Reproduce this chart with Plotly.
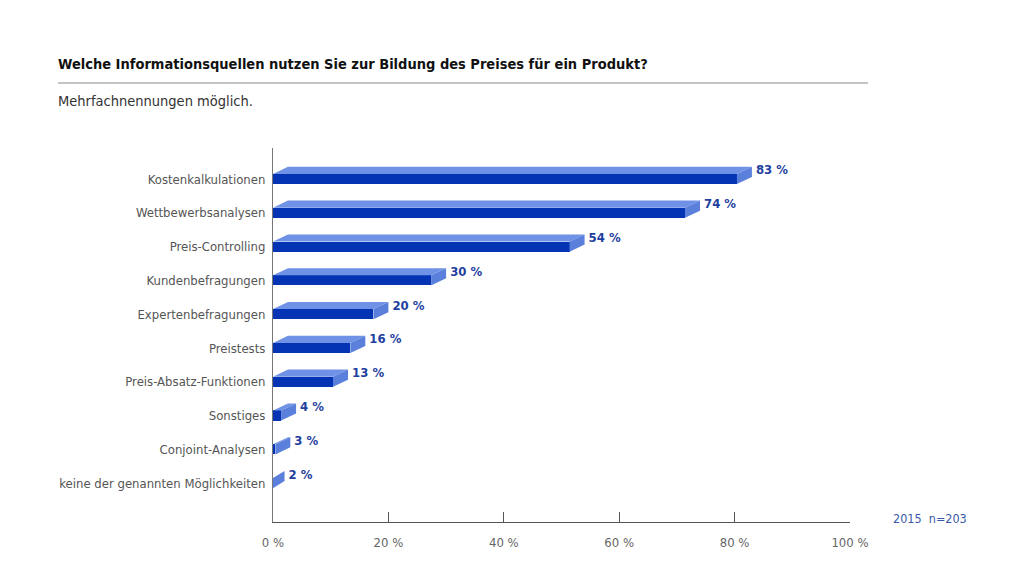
import plotly.graph_objects as go

categories = [
    "Kostenkalkulationen",
    "Wettbewerbsanalysen",
    "Preis-Controlling",
    "Kundenbefragungen",
    "Expertenbefragungen",
    "Preistests",
    "Preis-Absatz-Funktionen",
    "Sonstiges",
    "Conjoint-Analysen",
    "keine der genannten Möglichkeiten",
]
values = [83, 74, 54, 30, 20, 16, 13, 4, 3, 2]
x_ticks = [0, 20, 40, 60, 80, 100]
x_tick_labels = ["0 %", "20 %", "40 %", "60 %", "80 %", "100 %"]

FONT = "DejaVu Sans Condensed, Liberation Sans Narrow, sans-serif"
DARK = "#0434b4"
LIGHT = "#6f91e6"
SIDE = "#5b80db"
LABEL_BLUE = "#1f3f9f"

H = 0.30    # front face height (row units)
T = 0.21    # depth shift upwards (row units)
D = 2.6     # depth shift to the right (% units)

OFF = 8     # page body margin
L, R_EDGE, TOP, BOT = 273, 850, 148, 522
PW, PH = R_EDGE - L, BOT - TOP

def px(x):
    return (x - L) / PW

def py(y):
    return (BOT - y) / PH

pos = list(range(len(categories)))
front_w = []
top_x, top_y, side_x, side_y = [], [], [], []
for yc, v in zip(pos, values):
    d = min(D, v)
    fw = v - d
    front_w.append(fw)
    yt = yc - H / 2
    yb = yc + H / 2
    if fw > 0:
        top_x += [0, fw, v, d, 0, None]
        top_y += [yt, yt, yt - T, yt - T, yt, None]
    side_x += [fw, v, v, fw, fw, None]
    side_y += [yt, yt - T, yb - T, yb, yt, None]

fig = go.Figure()
fig.add_trace(go.Bar(
    y=pos, x=front_w, base=0, orientation="h", width=H,
    marker=dict(color=DARK, line=dict(width=0)),
    hoverinfo="skip", showlegend=False,
))
fig.add_trace(go.Scatter(
    x=top_x, y=top_y, mode="lines", fill="toself", fillcolor=LIGHT,
    line=dict(width=0, color=LIGHT), hoverinfo="skip", showlegend=False,
))
fig.add_trace(go.Scatter(
    x=side_x, y=side_y, mode="lines", fill="toself", fillcolor=SIDE,
    line=dict(width=0, color=SIDE), hoverinfo="skip", showlegend=False,
))
fig.add_trace(go.Scatter(
    x=[v + 0.7 for v in values], y=[p - 0.23 for p in pos],
    mode="text", text=[f"{v} %" for v in values], textposition="middle right",
    textfont=dict(family=FONT, size=13, color=LABEL_BLUE, weight="bold"),
    hoverinfo="skip", showlegend=False, cliponaxis=False,
))

fig.update_layout(
    width=1030, height=581,
    margin=dict(l=L - OFF, r=1030 - R_EDGE + OFF, t=TOP - OFF, b=581 - BOT + OFF),
    paper_bgcolor="white", plot_bgcolor="white",
    font=dict(family=FONT, size=13, color="#555555"),
    bargap=0,
    xaxis=dict(
        range=[0, 100], tickvals=x_ticks, ticktext=x_tick_labels,
        showgrid=False, zeroline=False, showline=True, linecolor="#555555", linewidth=1,
        ticks="inside", ticklen=10, tickcolor="#555555", tickwidth=1,
        tickfont=dict(family=FONT, size=13, color="#666666"),
        ticklabelstandoff=8, fixedrange=True,
    ),
    yaxis=dict(
        range=[10.15, -0.917], tickvals=pos, ticktext=categories,
        showgrid=False, zeroline=False, showline=True, linecolor="#777777", linewidth=1,
        ticks="", tickfont=dict(family=FONT, size=13, color="#555555"),
        ticklabelstandoff=4, fixedrange=True,
    ),
    annotations=[
        dict(text="<b>Welche Informationsquellen nutzen Sie zur Bildung des Preises für ein Produkt?</b>",
             xref="paper", yref="paper", x=px(56), y=py(64),
             xanchor="left", yanchor="middle", showarrow=False,
             font=dict(family=FONT, size=14.5, color="#111111")),
        dict(text="Mehrfachnennungen möglich.",
             xref="paper", yref="paper", x=px(56), y=py(101),
             xanchor="left", yanchor="middle", showarrow=False,
             font=dict(family=FONT, size=14.5, color="#333333")),
        dict(text="2015  n=203",
             xref="paper", yref="paper", x=px(891), y=py(518),
             xanchor="left", yanchor="middle", showarrow=False,
             font=dict(family=FONT, size=12.5, color="#3a5aa8")),
    ],
    shapes=[
        dict(type="line", xref="paper", yref="paper",
             x0=px(58), x1=px(868), y0=py(83), y1=py(83),
             line=dict(color="#888888", width=1)),
    ],
)

fig.write_html("out.html")
